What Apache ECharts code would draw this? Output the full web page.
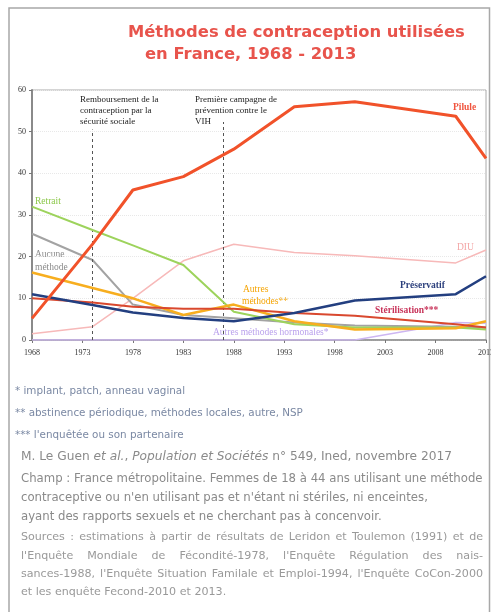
<!DOCTYPE html>
<html><head><meta charset="utf-8">
<script src="https://cdn.jsdelivr.net/npm/echarts@6/dist/echarts.min.js"></script>
<style>html,body{margin:0;padding:0;background:#fff;}#c{width:491px;height:612px;}</style>
</head><body><div id="c"></div>
<script>
// ---- Data ----
const years = [1968, 1974, 1978, 1983, 1988, 1994, 2000, 2010, 2013];
const pilule = [5.2, 23, 36, 39.2, 45.8, 56, 57.2, 53.7, 43.6];
const retrait = [32, 26.4, 22.7, 18, 6.8, 3.8, 3, 3, 2.5];
const aucune = [25.5, 19.2, 8.5, 6, 5.2, 4.2, 3.5, 3.2, 3];
const autres = [16.2, 12.5, 10, 6, 8.5, 4.5, 2.5, 2.8, 4.5];
const preservatif = [11, 8.4, 6.6, 5.3, 4.5, 6.5, 9.5, 11, 15.3];
const sterilisation = [10, 9, 8, 7.5, 7.5, 6.5, 5.8, 3.8, 3];
const diu = [1.5, 3.2, 10, 19, 23, 21, 20.2, 18.5, 21.6];
const hormonales = [0, 0, 0, 0, 0, 0, 0, 4.2, 4];
const eventYears = [1974, 1987];
const eventTops = [50.5, 52.3];
const eventTexts = [
  ["Remboursement de la", "contraception par la", "sécurité sociale"],
  ["Première campagne de", "prévention contre le", "VIH"]
];
const titleLines = ["Méthodes de contraception utilisées", "en France, 1968 - 2013"];
const footnotes = ["* implant, patch, anneau vaginal",
  "** abstinence périodique, méthodes locales, autre, NSP",
  "*** l'enquêtée ou son partenaire"];
const champLines = ["Champ : France métropolitaine. Femmes de 18 à 44 ans utilisant une méthode",
  "contraceptive ou n'en utilisant pas et n'étant ni stériles, ni enceintes,",
  "ayant des rapports sexuels et ne cherchant pas à concenvoir."];
const sourceLines = ["Sources : estimations à partir de résultats de Leridon et Toulemon (1991) et de",
  "l'Enquête Mondiale de Fécondité-1978, l'Enquête Régulation des nais-",
  "sances-1988, l'Enquête Situation Familale et Emploi-1994, l'Enquête CoCon-2000",
  "et les enquête Fecond-2010 et 2013."];

const pairs = arr => years.map((y, i) => [y, arr[i]]);
const chart = echarts.init(document.getElementById('c'));

function line(name, arr, color, width, z) {
  return { name, type: 'line', data: pairs(arr), symbol: 'none', z: z,
    lineStyle: { color, width }, itemStyle: { color } };
}

const serif = '"Liberation Serif", "DejaVu Serif", serif';
const sans = '"DejaVu Sans", "Noto Sans", sans-serif';
const cv = document.createElement('canvas').getContext('2d');
function fit(text, weight, family, target) {
  cv.font = weight + ' 20px ' + family;
  return 20 * target / cv.measureText(text).width;
}

const graphics = [];
graphics.push({ type: 'rect', shape: { x: 9, y: 8, width: 480.5, height: 620 },
  style: { fill: null, stroke: '#a8a8a8', lineWidth: 1.5 }, silent: true });
const tSize = fit(titleLines[0], 'bold', sans, 337);
graphics.push({ type: 'text', left: 128, top: 25, style: { text: titleLines[0], font: 'bold ' + tSize + 'px ' + sans, fill: '#e8544c' } });
graphics.push({ type: 'text', left: 145, top: 47, style: { text: titleLines[1], font: 'bold ' + tSize + 'px ' + sans, fill: '#e8544c' } });

// event annotations
const evX = [80, 195];
eventTexts.forEach((ls, k) => ls.forEach((t, i) => graphics.push({ type: 'text', left: evX[k], top: 95 + i * 11,
  style: { text: t, font: '9px ' + serif, fill: '#222' } })));

// series labels
const lab = (t, x, y, c, w) => graphics.push({ type: 'text', left: x, top: y, style: { text: t, font: (w || 'normal') + ' 9.5px ' + serif, fill: c } });
lab('Pilule', 453, 103, '#f0553f', 'bold');
lab('Retrait', 35, 196, '#8cc84b');
lab('Aucune', 35, 249, '#8a8a8a');
lab('méthode', 35, 262, '#8a8a8a');
lab('DIU', 457, 242, '#f3a6a6');
lab('Préservatif', 400, 281, '#2b3f7c', 'bold');
lab('Stérilisation***', 375, 306, '#c8345a', 'bold');
lab('Autres', 243, 284, '#f5a300');
lab('méthodes**', 242, 296, '#f5a300');
lab('Autres méthodes hormonales*', 213, 327, '#b9a0ec');

// footnotes
const fSize = fit(footnotes[1], 'normal', sans, 288);
footnotes.forEach((t, i) => graphics.push({ type: 'text', left: 15, top: 386 + i * 22,
  style: { text: t, font: fSize + 'px ' + sans, fill: '#7a88a3' } }));

const refSize = fit('M. Le Guen et al., Population et Sociétés n° 549, Ined, novembre 2017', 'normal', sans, 431);
graphics.push({ type: 'text', left: 21, top: 451, style: {
  rich: { n: { font: refSize + 'px ' + sans, fill: '#8a8a8a' }, i: { font: 'italic ' + refSize + 'px ' + sans, fill: '#8a8a8a' } },
  text: '{n|M. Le Guen }{i|et al.}{n|, }{i|Population et Sociétés}{n| n° 549, Ined, novembre 2017}' } });
const cSize = fit(champLines[0], 'normal', sans, 462);
champLines.forEach((t, i) => graphics.push({ type: 'text', left: 21, top: 473 + i * 19,
  style: { text: t, font: cSize + 'px ' + sans, fill: '#8a8a8a' } }));

// justified source lines
const sSize = fit(sourceLines[2], 'normal', sans, 452);
const srcFont = sSize + 'px ' + sans;
cv.font = srcFont;
sourceLines.forEach((t, i) => {
  const y = 532 + i * 18.3;
  if (i === sourceLines.length - 1) {
    graphics.push({ type: 'text', left: 21, top: y, style: { text: t, font: srcFont, fill: '#999' } });
    return;
  }
  const words = t.split(' ');
  const wsum = words.reduce((s, w) => s + cv.measureText(w).width, 0);
  const gap = (462 - wsum) / (words.length - 1);
  let x = 21;
  words.forEach(w => {
    graphics.push({ type: 'text', left: x, top: y, style: { text: w, font: srcFont, fill: '#999' } });
    x += cv.measureText(w).width + gap;
  });
});

chart.setOption({
  animation: false,
  grid: { left: 32, right: 5, top: 90, bottom: 272, show: true, borderColor: '#aaa', borderWidth: 1,
    containLabel: false, outerBoundsMode: 'none' },
  xAxis: { type: 'value', min: 1968, max: 2013, interval: 5,
    axisLine: { lineStyle: { color: '#8a8a8a', width: 1.5 } },
    axisTick: { show: true, length: 3, lineStyle: { color: '#777' } },
    splitLine: { show: false },
    axisLabel: { color: '#333', fontFamily: serif, fontSize: 8, margin: 9, formatter: v => String(v) } },
  yAxis: { type: 'value', min: 0, max: 60, interval: 10,
    axisLine: { show: true, lineStyle: { color: '#8a8a8a', width: 2 } },
    axisTick: { show: true, length: 3, lineStyle: { color: '#777' } },
    splitLine: { show: true, lineStyle: { color: '#e8e8e8', type: 'dotted' } },
    axisLabel: { color: '#333', fontFamily: serif, fontSize: 8, margin: 6 } },
  graphic: graphics,
  series: [
    Object.assign(line('Autres méthodes hormonales*', hormonales, '#cdb6f2', 1.5, 2), {
      markLine: { silent: true, symbol: 'none', label: { show: false },
        lineStyle: { color: '#555', type: [3, 3], width: 1 },
        data: eventYears.map((y, i) => [{ coord: [y, 0] }, { coord: [y, eventTops[i]] }]) } }),
    line('DIU', diu, '#f7b9b9', 1.5, 3),
    line('Aucune méthode', aucune, '#a3a3a3', 2, 4),
    line('Retrait', retrait, '#9dd35c', 2, 5),
    line('Autres méthodes**', autres, '#f7ae1f', 2.5, 6),
    line('Stérilisation***', sterilisation, '#d9482e', 2, 7),
    line('Préservatif', preservatif, '#233f80', 2.5, 8),
    line('Pilule', pilule, '#f1522a', 3, 9)
  ]
});
</script></body></html>
